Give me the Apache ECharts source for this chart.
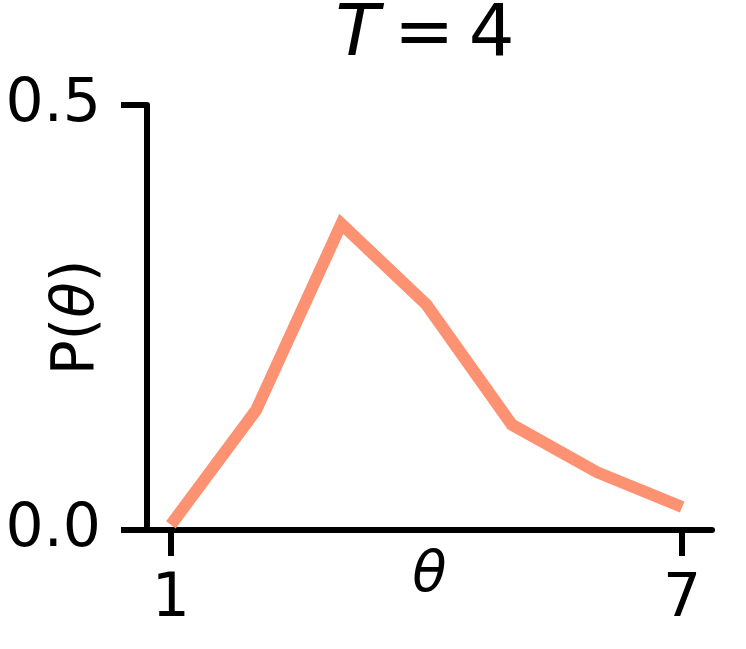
<!DOCTYPE html>
<html>
<head>
<meta charset="utf-8">
<script src="https://cdn.jsdelivr.net/npm/echarts@6/dist/echarts.min.js"></script>
<style>
  html, body { margin: 0; padding: 0; background: #fff; }
  #chart { width: 746px; height: 649px; }
</style>
</head>
<body>
<div id="chart"></div>
<script>
// data
var thetas = [1, 2, 3, 4, 5, 6, 7]
var probs = [0.006, 0.141, 0.360, 0.265, 0.124, 0.068, 0.027]
var xTicks = [1, 7]
var yTicks = [0, 0.5]

var chart = echarts.init(document.getElementById('chart'))
var font = 'DejaVu Sans'

chart.setOption({
  backgroundColor: '#fff',
  animation: false,
  title: {
    text: '{i|T}\u2009=\u20094',
    left: 420,
    textAlign: 'center',
    top: -5,
    textStyle: {
      fontFamily: font,
      fontSize: 72,
      fontWeight: 'normal',
      color: '#000',
      rich: {
        i: { fontFamily: font, fontSize: 72, fontStyle: 'italic', color: '#000' }
      }
    }
  },
  grid: {
    left: 147,
    top: 105,
    width: 565,
    height: 425,
    containLabel: false,
    outerBoundsMode: 'none'
  },
  xAxis: {
    type: 'value',
    min: 0.72,
    max: 7.35,
    name: 'θ',
    nameLocation: 'middle',
    nameGap: 18,
    nameMoveOverlap: false,
    nameTextStyle: {
      fontFamily: font,
      fontSize: 56,
      fontStyle: 'italic',
      color: '#000'
    },
    axisLine: { lineStyle: { color: '#000', width: 6 } },
    axisTick: {
      show: true,
      length: 26,
      lineStyle: { color: '#000', width: 6 },
      customValues: xTicks
    },
    axisLabel: {
      margin: 40,
      fontFamily: font,
      fontSize: 60,
      color: '#000',
      customValues: xTicks,
      formatter: function (v) { return String(v) }
    },
    splitLine: { show: false }
  },
  yAxis: {
    type: 'value',
    min: 0,
    max: 0.5,
    name: '{n|P(}{i|θ}{n|)}',
    nameLocation: 'middle',
    nameGap: 40,
    nameRotate: 90,
    nameMoveOverlap: false,
    nameTextStyle: {
      rich: {
        n: { fontFamily: font, fontSize: 58, color: '#000' },
        i: { fontFamily: font, fontSize: 58, fontStyle: 'italic', color: '#000' }
      }
    },
    axisLine: { show: true, lineStyle: { color: '#000', width: 6 } },
    axisTick: {
      show: true,
      length: 26,
      lineStyle: { color: '#000', width: 6 },
      customValues: yTicks
    },
    axisLabel: {
      margin: 46,
      fontFamily: font,
      fontSize: 60,
      color: '#000',
      customValues: yTicks,
      formatter: function (v) { return v.toFixed(1) }
    },
    splitLine: { show: false }
  },
  series: [
    {
      type: 'line',
      data: thetas.map(function (t, i) { return [t, probs[i]] }),
      showSymbol: false,
      clip: false,
      lineStyle: { color: '#fc9272', width: 12, cap: 'butt', join: 'miter' }
    }
  ]
})
</script>
</body>
</html>
